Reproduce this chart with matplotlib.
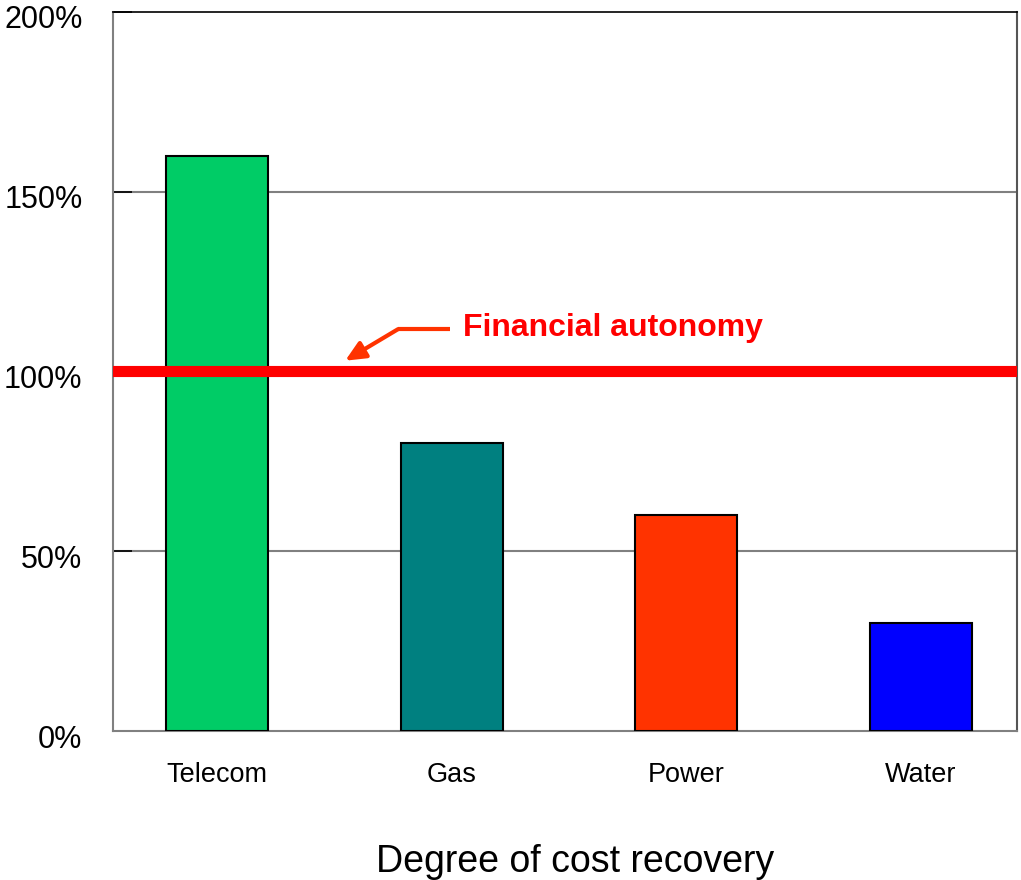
import matplotlib.pyplot as plt
import matplotlib.transforms as mtransforms

plt.rcParams['font.family'] = ['Liberation Sans', 'DejaVu Sans']

# data
sectors = ["Telecom", "Gas", "Power", "Water"]
recovery = [160, 80, 60, 30]
bar_colors = ["#00CC66", "#008080", "#FF3300", "#0000FF"]
yticks = [0, 50, 100, 150, 200]
ytick_labels = ["0%", "50%", "100%", "150%", "200%"]
autonomy_level = 100

fig = plt.figure(figsize=(10.21, 8.8), dpi=100)
ax = fig.add_axes([0.1107, 0.1693, 0.8853, 0.8171])

x = range(len(sectors))
ax.bar(x, recovery, width=0.435, color=bar_colors, edgecolor='black',
       linewidth=1.5, zorder=3)

ax.set_xlim(-0.4435, 3.409)
ax.set_ylim(0, 200)
ax.set_yticks(yticks)
ax.set_yticklabels(ytick_labels, fontsize=22)
ax.set_xticks(list(x))
ax.set_xticklabels(sectors, fontsize=19.5)
ax.tick_params(axis='y', direction='in', length=14, width=1.2, pad=22,
               color='black')
ax.tick_params(axis='x', length=0, pad=22)

# labels sit a little below their ticks in the original
shift = mtransforms.ScaledTranslation(0, -5 / 100, fig.dpi_scale_trans)
for lab in ax.get_yticklabels():
    lab.set_transform(lab.get_transform() + shift)

for y in [50, 150]:
    ax.axhline(y, color='#808080', lw=1.5, zorder=1)

for s in ['left', 'bottom']:
    ax.spines[s].set_color('#808080')
    ax.spines[s].set_linewidth(1.5)
ax.spines['right'].set_color('#555555')
ax.spines['right'].set_linewidth(1.5)
ax.spines['top'].set_color('black')
ax.spines['top'].set_linewidth(1.2)

# financial autonomy line
ax.axhline(autonomy_level, color='#FF0000', lw=8, zorder=4)
ax.text(1.05, 112, "Financial autonomy", color='#FF0000', fontsize=23,
        fontweight='bold', va='center', ha='left', zorder=5)
ax.plot([0.994, 0.772], [111.8, 111.8], color='#FF3300', lw=3,
        solid_capstyle='butt', zorder=5)
ax.annotate("", xy=(0.546, 103.0), xytext=(0.772, 111.8),
            arrowprops=dict(arrowstyle='-|>,head_length=1.2,head_width=0.55',
                            color='#FF3300', lw=3, shrinkA=0, shrinkB=0),
            zorder=5)

fig.text(575 / 1021, 1 - 862 / 880, "Degree of cost recovery", fontsize=27,
         ha='center', va='center')

fig.savefig('out.png', dpi=100)
